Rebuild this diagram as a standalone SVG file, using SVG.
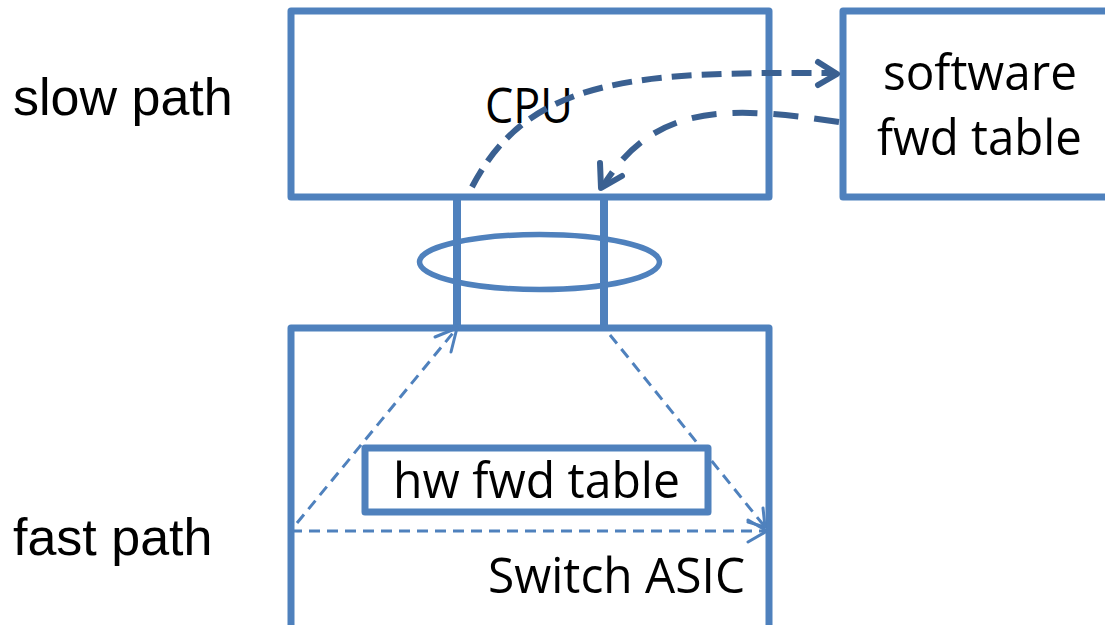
<svg xmlns="http://www.w3.org/2000/svg" width="1105" height="625" viewBox="0 0 1105 625">
<defs>
<style>
.box{fill:#fff;stroke:#4F81BD;stroke-width:7;stroke-linejoin:round}
.link{fill:none;stroke:#4F81BD;stroke-width:8}
.ring{fill:none;stroke:#4F81BD;stroke-width:5.5}
.lbl{font-family:"Open Sans","Noto Sans",sans-serif;font-size:49px;fill:#000}
.side{font-family:"Liberation Sans",Arial,sans-serif;font-size:52px;fill:#000}
.thick{fill:none;stroke:#3A6091;stroke-width:6;stroke-dasharray:20 10}
.thick2{fill:none;stroke:#3A6091;stroke-width:6;stroke-dasharray:25 16}
.thin{fill:none;stroke:#4F81BD;stroke-width:3;stroke-dasharray:11 7}
.head{fill:none;stroke-linecap:round;stroke-linejoin:round}
</style>
</defs>
<rect width="1105" height="625" fill="#fff"/>
<text class="side" x="13" y="115">slow path</text>
<text class="side" x="13" y="555">fast path</text>
<g id="cpu">
<rect class="box" x="291" y="11" width="478" height="186"/>
<text class="lbl" x="485" y="123" textLength="88" lengthAdjust="spacingAndGlyphs">CPU</text>
</g>
<g id="software">
<rect class="box" x="843" y="11" width="280" height="186"/>
<text class="lbl" x="883" y="90" textLength="194" lengthAdjust="spacingAndGlyphs">software</text>
<text class="lbl" x="877" y="155" textLength="205" lengthAdjust="spacingAndGlyphs">fwd table</text>
</g>
<g id="bus">
<line class="link" x1="457" y1="196" x2="457" y2="328"/>
<line class="link" x1="604" y1="196" x2="604" y2="328"/>
<ellipse class="ring" cx="539.5" cy="262" rx="120" ry="27.5"/>
</g>
<g id="asic">
<rect class="box" x="291" y="328" width="478" height="320"/>
<text class="lbl" x="488" y="593" textLength="257" lengthAdjust="spacingAndGlyphs">Switch ASIC</text>
</g>
<g id="connectors">
<path class="thin" d="M297,523 L457,328"/>
<path class="thin" d="M610,335 L765,527"/>
<path class="thin" d="M291,531 L766,531"/>
<path class="head" stroke="#4F81BD" stroke-width="3" d="M435,337 L457,328 L451,352"/>
<path class="head" stroke="#4F81BD" stroke-width="3" d="M763,508 L765,527 L748,522"/>
<path class="head" stroke="#4F81BD" stroke-width="3" d="M748,520 L767,531 L748,542"/>
<path class="thick" d="M472,187 C530,75 640,72 836,73"/>
<path class="head" stroke="#3A6091" stroke-width="6" d="M818,62 L837,74 L818,85"/>
<path class="thick2" d="M839,122 C730,106 655,102 603,186"/>
<path class="head" stroke="#3A6091" stroke-width="6" d="M600,163 L601,188 L622,176"/>
</g>
<g id="hw">
<rect class="box" x="365" y="448" width="343" height="64"/>
<text class="lbl" x="393" y="498" textLength="287" lengthAdjust="spacingAndGlyphs">hw fwd table</text>
</g>
</svg>
